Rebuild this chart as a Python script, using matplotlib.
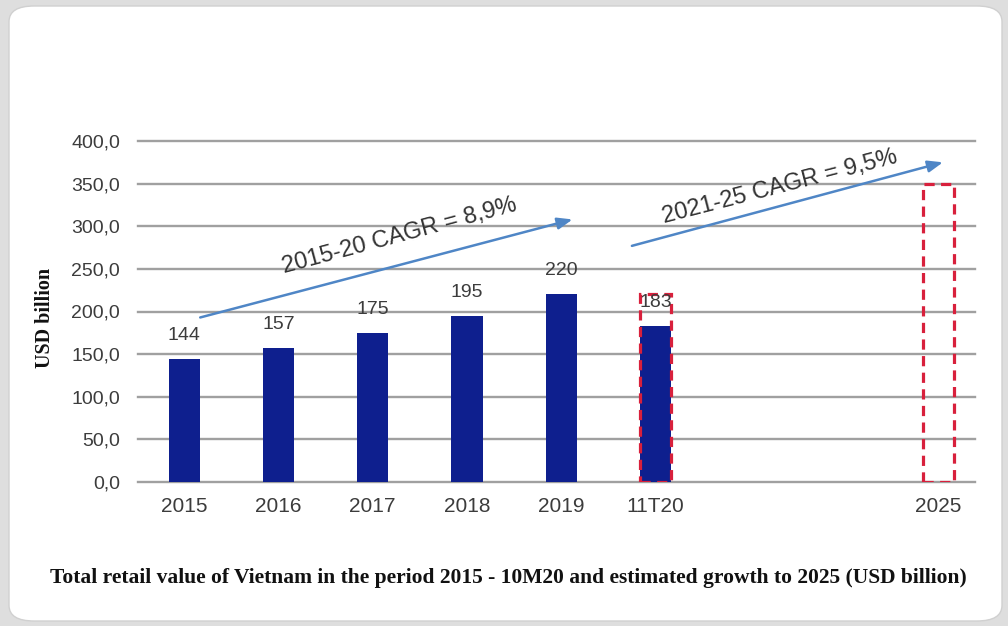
import matplotlib
matplotlib.use("Agg")
import matplotlib.pyplot as plt
from matplotlib.patches import FancyBboxPatch
import numpy as np

# Retail value, USD billion
categories = ["2015", "2016", "2017", "2018", "2019", "11T20", "2025"]
actual_values = [144, 157, 175, 195, 220, 183]
forecast_2020 = 220
forecast_2025 = 350
y_ticks = [0, 50, 100, 150, 200, 250, 300, 350, 400]
cagr_labels = ["2015-20 CAGR = 8,9%", "2021-25 CAGR = 9,5%"]
caption = ("Total retail value of Vietnam in the period 2015 - 10M20 "
           "and estimated growth to 2025 (USD billion)")

W, H = 1008, 626
fig = plt.figure(figsize=(W / 100, H / 100), dpi=100)
fig.patch.set_facecolor("#dedede")

# white rounded card
card = FancyBboxPatch((9 / W, 5 / H), (1002 - 9) / W, (620 - 5) / H,
                      boxstyle="round,pad=0,rounding_size=0.025",
                      transform=fig.transFigure, facecolor="white",
                      edgecolor="#d0d0d0", linewidth=1.0, zorder=-10)
fig.patches.append(card)

ax = fig.add_axes([138 / W, 144 / H, (975 - 138) / W, 341 / H])
ax.set_facecolor("none")
ax.set_zorder(1)

slots = np.array([0, 1, 2, 3, 4, 5, 8], dtype=float)
bar_w = 0.33
navy = "#0e1f8e"
red = "#d8203c"
grid_c = "#a0a0a0"
text_c = "#3c3c3c"
arrow_c = "#4f86c6"
sans = "Liberation Sans"

for y in y_ticks:
    ax.axhline(y, color=grid_c, lw=1.7, zorder=1, clip_on=False)

n = len(actual_values)
ax.bar(slots[:n], actual_values, width=bar_w, color=navy, zorder=3)

# dashed outlines for estimated full-year values
for xpos, val in [(slots[5], forecast_2020), (slots[6], forecast_2025)]:
    ax.bar(xpos, val, width=bar_w, facecolor="none", edgecolor=red,
           linewidth=2.3, linestyle=(0, (3.2, 2.0)), zorder=4)

for xpos, val in zip(slots[:n], actual_values):
    ax.annotate(f"{val}", (xpos, val), xytext=(0, 17), textcoords="offset points",
                ha="center", va="center", fontsize=14, color=text_c,
                family=sans, zorder=5)

# growth arrows
ax.annotate("", xy=(4.12, 308), xytext=(0.17, 193),
            arrowprops=dict(arrowstyle="-|>,head_length=0.9,head_width=0.35",
                            color=arrow_c, lw=1.8, shrinkA=0, shrinkB=0), zorder=5)
ax.annotate("", xy=(8.05, 375), xytext=(4.75, 277),
            arrowprops=dict(arrowstyle="-|>,head_length=0.9,head_width=0.35",
                            color=arrow_c, lw=1.8, shrinkA=0, shrinkB=0), zorder=5)

ax.text(2.28, 289, cagr_labels[0], rotation=15, ha="center", va="center",
        fontsize=17, color="#333333", family=sans, zorder=6,
        rotation_mode="anchor")
ax.text(6.32, 346, cagr_labels[1], rotation=14.5, ha="center", va="center",
        fontsize=17, color="#333333", family=sans, zorder=6,
        rotation_mode="anchor")

ax.set_xlim(-0.49, 8.39)
ax.set_ylim(0, 400)
ax.set_yticks(y_ticks)
ax.set_yticklabels([f"{v:.1f}".replace(".", ",") for v in y_ticks],
                   fontsize=14, color=text_c, family=sans)
ax.set_xticks(slots)
ax.set_xticklabels(categories, fontsize=15, color=text_c, family=sans)
ax.tick_params(axis="both", length=0)
ax.tick_params(axis="y", pad=13)
ax.tick_params(axis="x", pad=11)
for s in ax.spines.values():
    s.set_visible(False)

fig.text(45 / W, 1 - 318 / H, "USD billion", rotation=90, ha="center",
         va="center", fontsize=14.5, fontweight="bold",
         family="Liberation Serif", color="#111111")

fig.text(508 / W, 1 - 578 / H, caption, ha="center", va="center",
         fontsize=15.5, fontweight="bold", family="Liberation Serif",
         color="#111111")

fig.savefig("out.png", dpi=100, facecolor=fig.get_facecolor())
